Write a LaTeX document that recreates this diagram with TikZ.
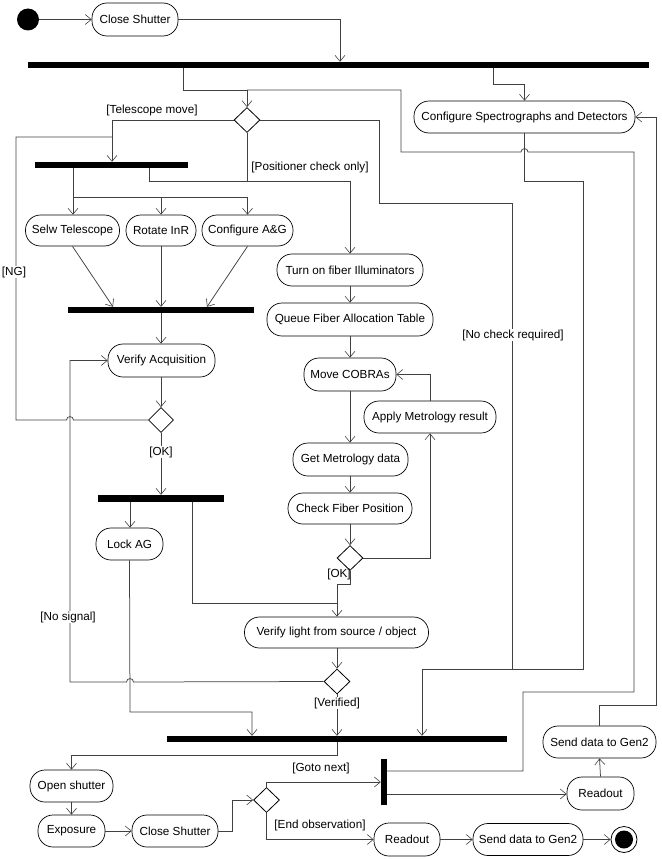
\documentclass[tikz,border=0pt]{standalone}
\usepackage{fontspec}
\setmainfont{Liberation Sans}
\usetikzlibrary{arrows.meta,shapes.geometric}
\begin{document}
\begin{tikzpicture}[x=1pt,y=-1pt,
  font=\fontsize{11.7}{13}\selectfont,
  act/.style={draw=black,line width=0.7pt,rounded corners=15pt,minimum height=32pt,inner xsep=3pt,inner ysep=0pt},
  fbar/.style={fill=black,draw=none,inner sep=0pt,minimum height=6pt},
  vfbar/.style={fill=black,draw=none,inner sep=0pt,minimum width=6pt},
  dec/.style={draw=black,line width=0.8pt,diamond,inner sep=0pt,minimum width=26pt,minimum height=25pt,fill=white},
  line/.style={draw=black!75,line width=0.75pt},
  flow/.style={line,-{Straight Barb[length=6pt,width=10pt,line width=0.6pt]}},
  lbl/.style={inner sep=1pt},
  wlbl/.style={inner sep=1pt,fill=white}
]
\useasboundingbox (0,0) rectangle (661,859);

% nodes
\node[circle,fill=black,minimum size=22pt,inner sep=0pt] (start) at (28,19.5) {};
\node[act,minimum width=86pt,minimum height=33pt] (cs1) at (135,19.5) {Close Shutter};
\node[fbar,minimum width=621pt] (bar1) at (338.5,65) {};
\node[dec] (d1) at (247,120) {};
\node[act,minimum width=221pt] (spec) at (524.5,117) {Configure Spectrographs and Detectors};
\node[fbar,minimum width=153pt] (bar2) at (111.5,165) {};
\node[act,minimum width=94pt,minimum height=31pt] (selw) at (72.5,230.5) {Selw Telescope};
\node[act,minimum width=70pt,minimum height=31pt] (rot) at (161,230.5) {Rotate InR};
\node[act,minimum width=91pt,minimum height=31pt] (cag) at (247.5,230.5) {Configure A\&G};
\node[fbar,minimum width=186pt] (bar3) at (161,310) {};
\node[act,minimum width=107pt,minimum height=33pt] (va) at (161.5,360.5) {Verify Acquisition};
\node[dec,minimum width=25pt] (d2) at (161,420) {};
\node[fbar,minimum width=126pt,minimum height=7pt] (bar4) at (161,498.5) {};
\node[act,minimum width=67pt] (lock) at (129.5,544) {Lock AG};
\node[act,minimum width=146pt] (illum) at (350,270) {Turn on fiber Illuminators};
\node[act,minimum width=166pt,minimum height=33pt] (queue) at (350,319.5) {Queue Fiber Allocation Table};
\node[act,minimum width=92pt,minimum height=33pt] (cobra) at (350,374.5) {Move COBRAs};
\node[act,minimum width=132pt] (apply) at (430,417) {Apply Metrology result};
\node[act,minimum width=115pt,minimum height=33pt] (getm) at (350.5,459.5) {Get Metrology data};
\node[act,minimum width=124pt,minimum height=31pt] (check) at (350,508.5) {Check Fiber Position};
\node[dec] (d4) at (350,558) {};
\node[act,minimum width=184pt,minimum height=31pt] (vl) at (336.5,632.5) {Verify light from source / object};
\node[dec] (d3) at (337,681.5) {};
\node[fbar,minimum width=340pt] (bar5) at (337,739) {};
\node[act,minimum width=83pt] (open) at (71.5,786) {Open shutter};
\node[act,minimum width=67pt] (expo) at (71.5,831) {Exposure};
\node[act,minimum width=86pt] (cs2) at (175,831) {Close Shutter};
\node[dec] (d5) at (266.5,800) {};
\node[vfbar,minimum height=46pt] (vbar) at (384,782) {};
\node[act,minimum width=67pt,minimum height=33pt] (ro1) at (600.5,793.5) {Readout};
\node[act,minimum width=113pt] (send1) at (599.5,742) {Send data to Gen2};
\node[act,minimum width=66pt,minimum height=33pt] (ro2) at (407,839.5) {Readout};
\node[act,minimum width=110pt] (send2) at (528,839.5) {Send data to Gen2};
\node[circle,draw=black,line width=0.8pt,fill=white,minimum size=26pt,inner sep=0pt] (final) at (624,839.5) {};
\node[circle,fill=black,minimum size=18pt,inner sep=0pt] (finaldot) at (final.center) {};

% connectors
\draw[flow] (start) -- (cs1);
\draw[flow] (cs1.east) -- (340,19.5) -- (bar1.north-|340,0);
\draw[flow] (bar1.south-|183,0) -- (183,90) -- (247,90) -- (d1.north);
\draw[flow] (bar1.south-|493,0) -- (493,84) -- (524.5,84) -- (spec.north);
% telescope move
\draw[flow] (d1.west) -- (112,120) -- (bar2.north-|112,0);
% positioner check only
\draw[line] (d1.south) -- (247,181);
\draw[flow] (bar2.south-|149,0) -- (149,181) -- (350,181) -- (illum.north);
% no check required
\draw[flow] (d1.east) -- (379,120) -- (379,203) -- (512,203) -- (512,669) -- (422,669) -- (bar5.north-|422,0);
\draw[line] (spec.south) -- (524.5,181) -- (583,181) -- (583,669) -- (512,669);
% fork of telescope
\draw[line] (bar2.south-|73,0) -- (73,197) -- (247.5,197);
\draw[flow] (73,197) -- (selw.north-|73,0);
\draw[flow] (161,197) -- (rot.north);
\draw[flow] (247.5,197) -- (cag.north);
\draw[flow] (selw.south) -- (bar3.north-|113,0);
\draw[flow] (rot.south) -- (bar3.north-|161,0);
\draw[flow] (cag.south) -- (bar3.north-|207,0);
\draw[flow] (bar3.south-|161,0) -- (va.north-|161,0);
\draw[flow] (va.south-|161,0) -- (d2.north);
% NG loop
\draw[line] (d2.west) -- (73.5,420) .. controls (73.5,415.5) and (66.5,415.5) .. (66.5,420) -- (16,420) -- (16,137) -- (112,137);
% OK
\draw[flow] (d2.south) -- (bar4.north);
\draw[flow] (bar4.south-|130,0) -- (lock.north-|130,0);
\draw[line] (bar4.south-|192,0) -- (192,603) -- (337,603);
% fiber column
\draw[flow] (illum.south) -- (queue.north);
\draw[flow] (queue.south) -- (cobra.north);
\draw[flow] (cobra.south) -- (getm.north-|350,0);
\draw[flow] (getm.south-|350,0) -- (check.north);
\draw[flow] (check.south) -- (d4.north);
\draw[flow] (d4.east) -- (430,558) -- (apply.south);
\draw[flow] (apply.north) -- (430,374.5) -- (cobra.east);
\draw[flow] (d4.south) -- (350,584) -- (337,584) -- (vl.north-|337,0);
\draw[flow] (vl.south-|337,0) -- (d3.north);
% no signal loop
\draw[flow] (d3.west) -- (133.5,682) .. controls (133.5,677.5) and (126.5,677.5) .. (126.5,682) -- (70,682) -- (70,360.5) -- (va.west);
% into final fork
\draw[flow] (lock.south) -- (130,712) -- (252,712) -- (bar5.north-|252,0);
\draw[flow] (d3.south) -- (bar5.north-|337,0);
% after fork
\draw[flow] (bar5.south-|337,0) -- (337,755) -- (71.5,755) -- (open.north);
\draw[flow] (open.south) -- (expo.north);
\draw[flow] (expo.east) -- (cs2.west);
\draw[flow] (cs2.east) -- (232,831) -- (232,800) -- (d5.west);
\draw[flow] (d5.north) -- (266.5,782) -- (vbar.west);
\draw[flow] (d5.south) -- (266.5,839.5) -- (ro2.west);
\draw[flow] (ro2.east) -- (send2.west);
\draw[flow] (send2.east) -- (final.west);
\draw[flow] (vbar.east|-0,794) -- (ro1.west|-0,794);
\draw[flow] (ro1.north) -- (send1.south);
\draw[flow] (send1.north) -- (599.5,705) -- (656,705) -- (656,117) -- (spec.east);
% goto next loop
\draw[line] (vbar.east|-0,771) -- (523,771) -- (523,692) -- (634,692) -- (634,152) -- (528,152) .. controls (528,147.5) and (521,147.5) .. (521,152) -- (401,152) -- (401,90) -- (247,90);

% labels
\node[lbl] (lt) at (152,110) {[Telescope move]};
\node[lbl] (lp) at (310,167) {[Positioner check only]};
\node[wlbl] (lng) at (14,272) {[NG]};
\node[wlbl] (lok1) at (161,452) {[OK]};
\node[lbl] (lok2) at (339,574) {[OK]};
\node[wlbl] (lns) at (68,617) {[No signal]};
\node[wlbl] (lv) at (337,703) {[Verified]};
\node[wlbl] (lnc) at (513,335) {[No check required]};
\node[lbl] (lg) at (321,768) {[Goto next]};
\node[lbl] (le) at (320,825) {[End observation]};
\end{tikzpicture}
\end{document}
